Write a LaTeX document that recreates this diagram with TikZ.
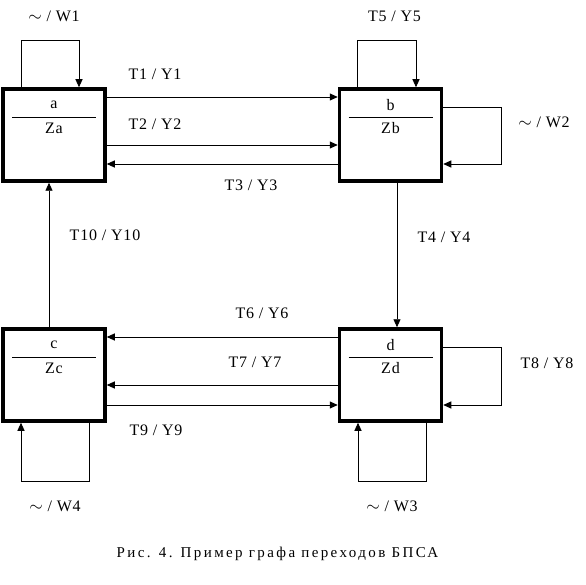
\documentclass[tikz,border=0pt]{standalone}
\usepackage{fontspec}
\setmainfont{Liberation Serif}
\newfontfamily\labfont[LetterSpace=5]{Liberation Serif}
\newfontfamily\capfont[LetterSpace=16]{Liberation Serif}
\usetikzlibrary{arrows.meta}
\begin{document}
\begin{tikzpicture}[x=1pt,y=-1pt,
  state/.style={draw,line width=3.5pt,minimum width=102pt,minimum height=92pt,inner sep=0pt},
  conn/.style={line width=0.9pt,-{Triangle[length=8pt,width=7pt]}},
  lab/.style={font=\labfont\fontsize{16}{18}\selectfont,inner sep=0pt},
  sub/.style={font=\labfont\fontsize{16}{18}\selectfont,inner sep=0pt}]
\useasboundingbox (0,0) rectangle (586,585);
% states
\node[state] (a) at (54,135) {};
\node[state] (b) at (390.5,135) {};
\node[state] (c) at (54,375) {};
\node[state] (d) at (390.5,375) {};
% inner texts and dividers
\foreach \n/\t/\z in {a/a/Za,b/b/Zb,c/c/Zc,d/d/Zd}{
  \node[sub] (\n t) at ([yshift=-18pt]\n.north) {\t};
  \node[sub] (\n z) at ([yshift=-41pt]\n.north) {\z};
  \draw[line width=0.9pt] ([xshift=-42pt,yshift=-30pt]\n.north) -- ([xshift=42pt,yshift=-30pt]\n.north);
}
% a <-> b
\draw[conn] ([yshift=38pt]a.east) -- ([yshift=38pt]b.west);
\draw[conn] ([yshift=-10pt]a.east) -- ([yshift=-10pt]b.west);
\draw[conn] ([yshift=-29pt]b.west) -- ([yshift=-29pt]a.east);
% b -> d
\draw[conn] ([xshift=6.5pt]b.south) -- ([xshift=6.5pt]d.north);
% c -> a
\draw[conn] ([xshift=-5pt]c.north) -- ([xshift=-5pt]a.south);
% d <-> c
\draw[conn] ([yshift=38pt]d.west) -- ([yshift=38pt]c.east);
\draw[conn] ([yshift=-10pt]d.west) -- ([yshift=-10pt]c.east);
\draw[conn] ([yshift=-30pt]c.east) -- ([yshift=-30pt]d.west);
% self loops
\draw[conn] ([xshift=-33pt]a.north) -- ++(0,-47) -| ([xshift=25pt]a.north);
\draw[conn] ([xshift=-33.5pt]b.north) -- ++(0,-47) -| ([xshift=25.5pt]b.north);
\draw[conn] ([yshift=28pt]b.east) -- ++(58,0) |- ([yshift=-29pt]b.east);
\draw[conn] ([yshift=28pt]d.east) -- ++(58,0) |- ([yshift=-30pt]d.east);
\draw[conn] ([xshift=35.5pt]d.south) -- ++(0,59) -| ([xshift=-32.5pt]d.south);
\draw[conn] ([xshift=35pt]c.south) -- ++(0,59) -| ([xshift=-33pt]c.south);
% labels
\node[lab] (l1) at (54,16) {$\sim$ / W1};
\node[lab] (l5) at (394.5,16) {T5 / Y5};
\node[lab] (lt1) at (155,74.5) {T1 / Y1};
\node[lab] (lt2) at (155,124.5) {T2 / Y2};
\node[lab] (lt3) at (251,185) {T3 / Y3};
\node[lab] (lw2) at (544,122) {$\sim$ / W2};
\node[lab] (lt10) at (105,235) {T10 / Y10};
\node[lab] (lt4) at (444,237) {T4 / Y4};
\node[lab] (lt6) at (262,313) {T6 / Y6};
\node[lab] (lt7) at (255,362) {T7 / Y7};
\node[lab] (lt8) at (547,363) {T8 / Y8};
\node[lab] (lt9) at (156,430) {T9 / Y9};
\node[lab] (lw4) at (55,506) {$\sim$ / W4};
\node[lab] (lw3) at (392,506) {$\sim$ / W3};
% caption
\node[font=\capfont\fontsize{15}{17}\selectfont,inner sep=0pt] (cap) at (277.5,554) {Рис. 4. Пример графа переходов БПСА};
\end{tikzpicture}
\end{document}
